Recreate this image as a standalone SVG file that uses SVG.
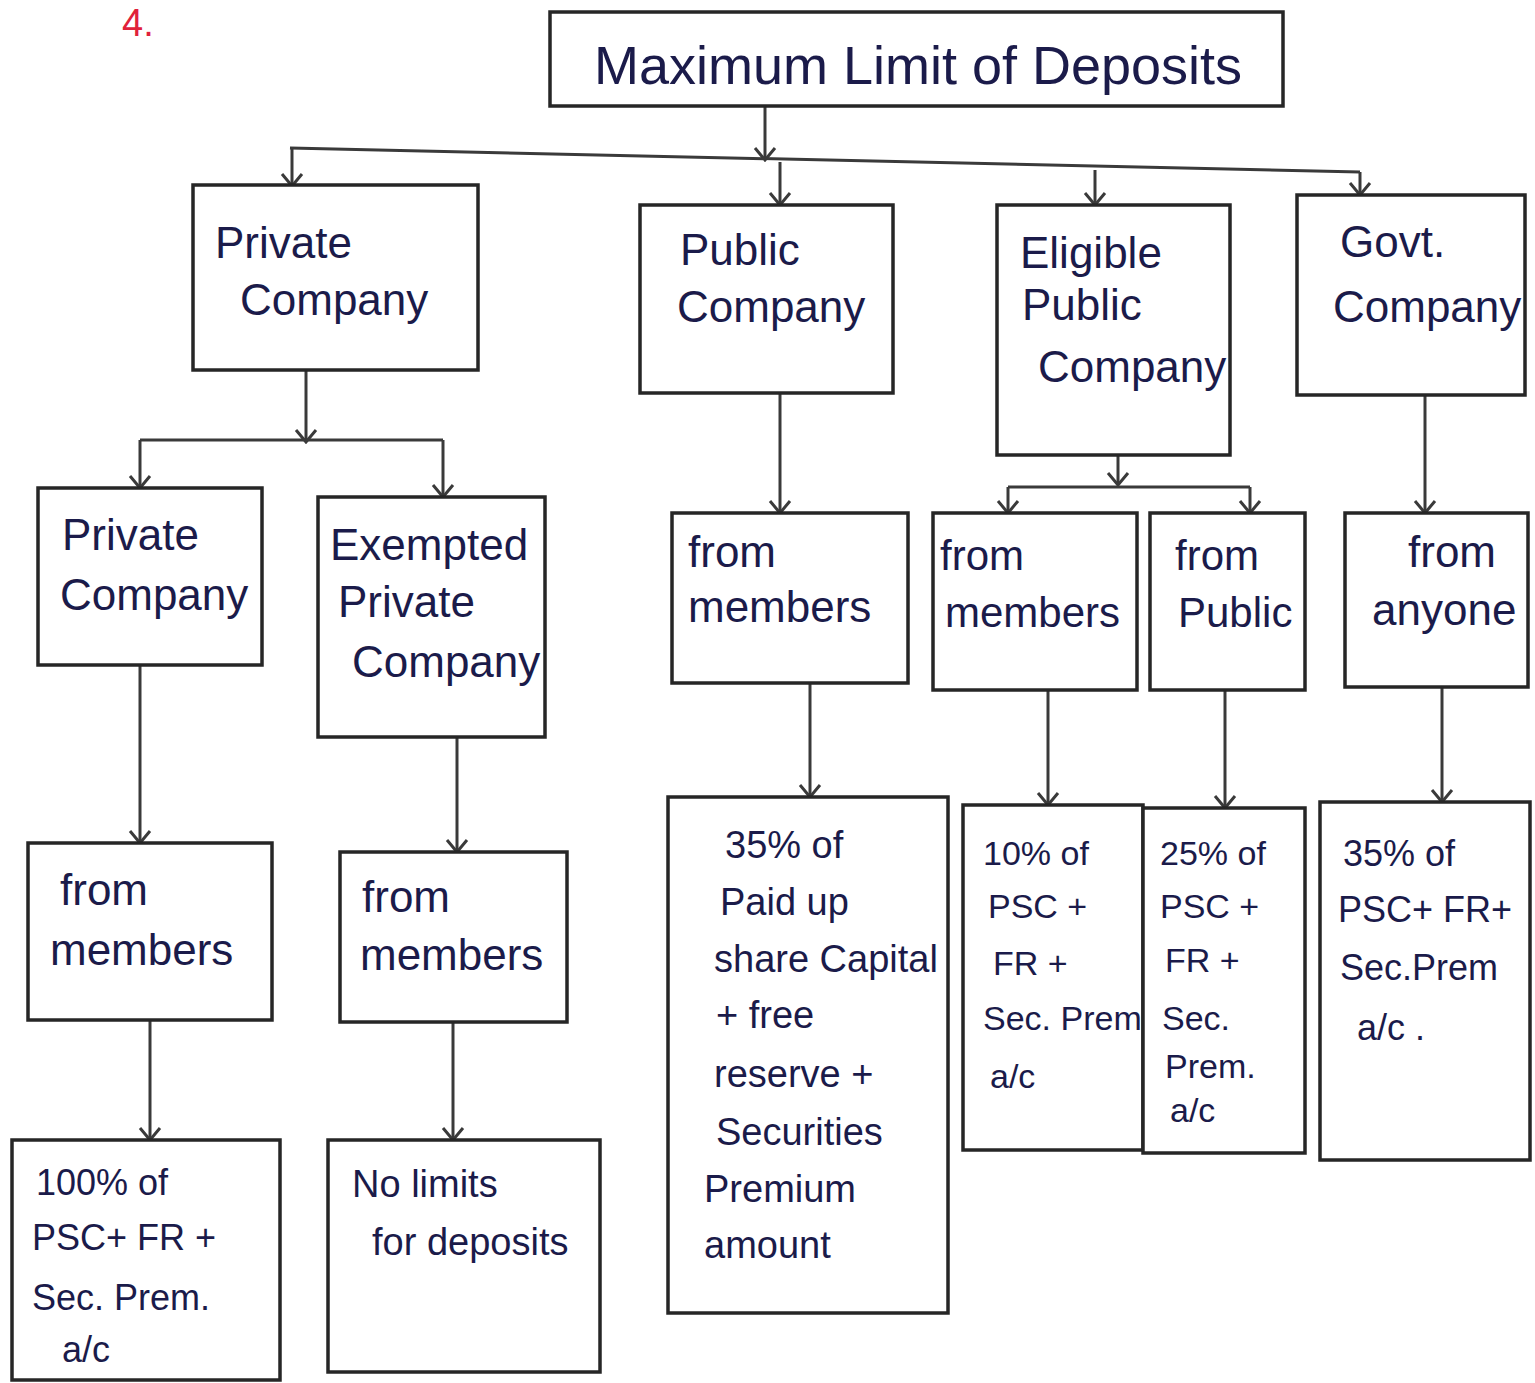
<svg xmlns="http://www.w3.org/2000/svg" width="1535" height="1383" viewBox="0 0 1535 1383">
<defs>
<style>
.box{fill:#fff;stroke:#262626;stroke-width:3.5}
.t{font-family:"Liberation Sans","Noto Sans",sans-serif;fill:#1b1b4a}
.l{font-size:44px}
.m{font-size:38px}
.e{font-size:42px}
.s{font-size:34px}
.g{font-size:36px}
.c{fill:none;stroke:#3a3a3a;stroke-width:3;marker-end:url(#ah)}
.n{fill:none;stroke:#3a3a3a;stroke-width:3}
</style>
<marker id="ah" viewBox="0 0 24 24" refX="22" refY="12" markerWidth="24" markerHeight="24" markerUnits="userSpaceOnUse" orient="auto">
<path d="M10 2 L22 12 L10 22" fill="none" stroke="#3a3a3a" stroke-width="3"/>
</marker>
</defs>
<rect width="1535" height="1383" fill="#fff"/>
<text x="122" y="36" font-family="Liberation Sans,sans-serif" font-size="38" fill="#e0213a">4.</text>

<g id="connectors">
<path class="c" d="M765 106 V160"/>
<path class="n" d="M290 148 L1360 172"/>
<path class="c" d="M292 148 V186"/>
<path class="c" d="M780 162 V205"/>
<path class="c" d="M1095 170 V205"/>
<path class="c" d="M1360 172 V195"/>
<path class="c" d="M306 370 V442"/>
<path class="n" d="M140 440 H443"/>
<path class="c" d="M140 440 V488"/>
<path class="c" d="M443 440 V497"/>
<path class="c" d="M780 393 V513"/>
<path class="c" d="M1118 455 V485"/>
<path class="n" d="M1008 487 H1250"/>
<path class="c" d="M1008 487 V513"/>
<path class="c" d="M1250 487 V513"/>
<path class="c" d="M1425 395 V513"/>
<path class="c" d="M140 665 V843"/>
<path class="c" d="M457 737 V852"/>
<path class="c" d="M810 683 V797"/>
<path class="c" d="M1048 690 V805"/>
<path class="c" d="M1225 690 V808"/>
<path class="c" d="M1442 687 V802"/>
<path class="c" d="M150 1020 V1140"/>
<path class="c" d="M453 1022 V1140"/>
</g>

<g id="n-title"><rect class="box" x="550" y="12" width="733" height="94"/><text class="t" x="918" y="84" text-anchor="middle" font-size="54">Maximum Limit of Deposits</text></g>

<g id="n-private"><rect class="box" x="193" y="185" width="285" height="185"/><text class="t l" x="215" y="258">Private</text><text class="t l" x="240" y="315">Company</text></g>
<g id="n-public"><rect class="box" x="640" y="205" width="253" height="188"/><text class="t l" x="680" y="265">Public</text><text class="t l" x="677" y="322">Company</text></g>
<g id="n-eligible"><rect class="box" x="997" y="205" width="233" height="250"/><text class="t l" x="1020" y="268">Eligible</text><text class="t l" x="1022" y="320">Public</text><text class="t l" x="1038" y="382">Company</text></g>
<g id="n-govt"><rect class="box" x="1297" y="195" width="228" height="200"/><text class="t l" x="1340" y="257">Govt.</text><text class="t l" x="1333" y="322">Company</text></g>

<g id="n-private2"><rect class="box" x="38" y="488" width="224" height="177"/><text class="t l" x="62" y="550">Private</text><text class="t l" x="60" y="610">Company</text></g>
<g id="n-exempted"><rect class="box" x="318" y="497" width="227" height="240"/><text class="t l" x="330" y="560">Exempted</text><text class="t l" x="338" y="617">Private</text><text class="t l" x="352" y="677">Company</text></g>
<g id="n-pub-members"><rect class="box" x="672" y="513" width="236" height="170"/><text class="t l" x="688" y="567">from</text><text class="t l" x="688" y="622">members</text></g>
<g id="n-el-members"><rect class="box" x="933" y="513" width="204" height="177"/><text class="t e" x="940" y="570">from</text><text class="t e" x="945" y="627">members</text></g>
<g id="n-el-public"><rect class="box" x="1150" y="513" width="155" height="177"/><text class="t e" x="1175" y="570">from</text><text class="t e" x="1178" y="627">Public</text></g>
<g id="n-govt-anyone"><rect class="box" x="1345" y="513" width="183" height="174"/><text class="t l" x="1408" y="567">from</text><text class="t l" x="1372" y="625">anyone</text></g>

<g id="n-priv-members"><rect class="box" x="28" y="843" width="244" height="177"/><text class="t l" x="60" y="905">from</text><text class="t l" x="50" y="965">members</text></g>
<g id="n-ex-members"><rect class="box" x="340" y="852" width="227" height="170"/><text class="t l" x="362" y="912">from</text><text class="t l" x="360" y="970">members</text></g>
<g id="n-pub-35"><rect class="box" x="668" y="797" width="280" height="516"/>
<text class="t m" x="725" y="858">35% of</text><text class="t m" x="720" y="915">Paid up</text><text class="t m" x="714" y="972">share Capital</text><text class="t m" x="716" y="1028">+ free</text><text class="t m" x="714" y="1087">reserve +</text><text class="t m" x="716" y="1145">Securities</text><text class="t m" x="704" y="1202">Premium</text><text class="t m" x="704" y="1258">amount</text></g>
<g id="n-el-10"><rect class="box" x="963" y="805" width="180" height="345"/>
<text class="t s" x="983" y="865">10% of</text><text class="t s" x="988" y="918">PSC +</text><text class="t s" x="993" y="975">FR +</text><text class="t s" x="983" y="1030">Sec. Prem</text><text class="t s" x="990" y="1088">a/c</text></g>
<g id="n-el-25"><rect class="box" x="1143" y="808" width="162" height="345"/>
<text class="t s" x="1160" y="865">25% of</text><text class="t s" x="1160" y="918">PSC +</text><text class="t s" x="1165" y="972">FR +</text><text class="t s" x="1162" y="1030">Sec.</text><text class="t s" x="1165" y="1078">Prem.</text><text class="t s" x="1170" y="1122">a/c</text></g>
<g id="n-govt-35"><rect class="box" x="1320" y="802" width="210" height="358"/>
<text class="t g" x="1343" y="866">35% of</text><text class="t g" x="1338" y="922">PSC+ FR+</text><text class="t g" x="1340" y="980">Sec.Prem</text><text class="t g" x="1357" y="1040">a/c .</text></g>

<g id="n-priv-100"><rect class="box" x="12" y="1140" width="268" height="240"/>
<text class="t g" x="36" y="1195">100% of</text><text class="t g" x="32" y="1250">PSC+ FR +</text><text class="t g" x="32" y="1310">Sec. Prem.</text><text class="t g" x="62" y="1362">a/c</text></g>
<g id="n-ex-nolimits"><rect class="box" x="328" y="1140" width="272" height="232"/>
<text class="t m" x="352" y="1197">No limits</text><text class="t m" x="372" y="1255">for deposits</text></g>
</svg>
